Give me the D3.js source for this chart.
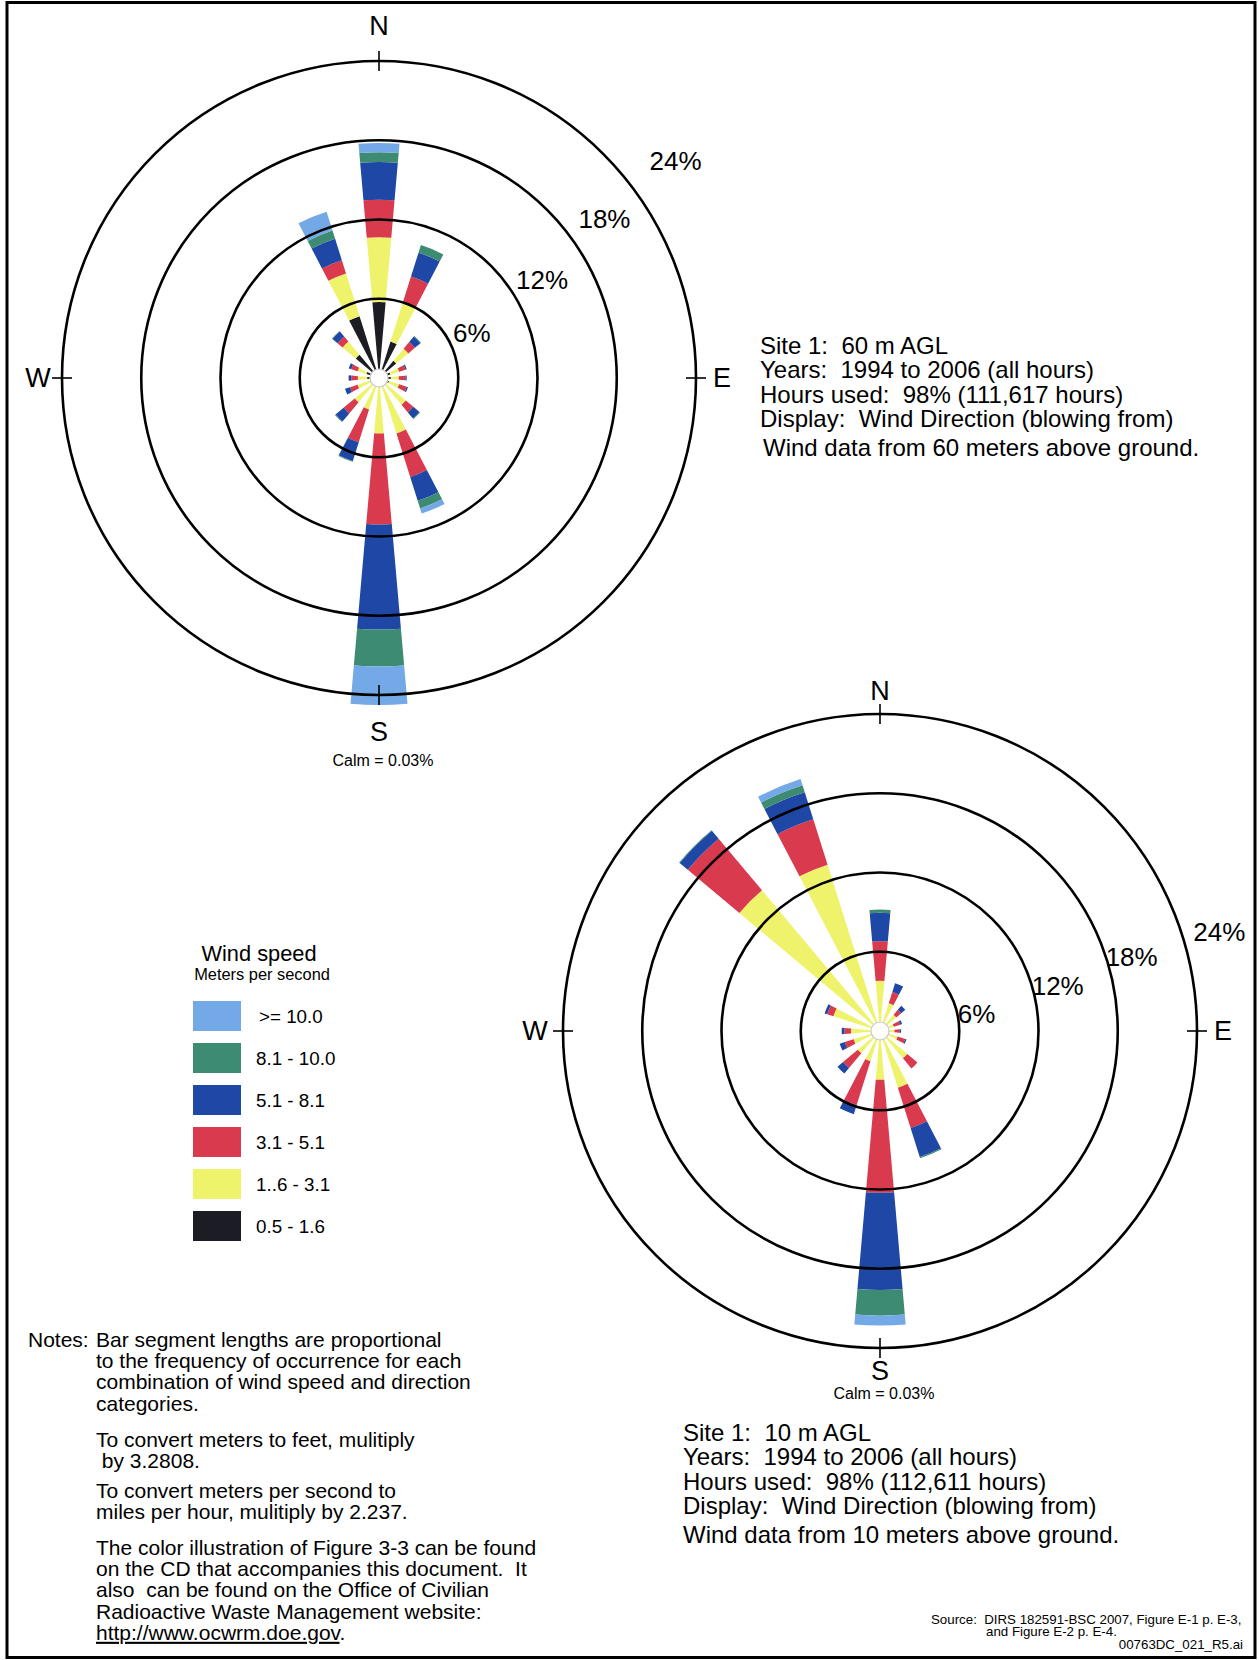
<!DOCTYPE html>
<html>
<head>
<meta charset="utf-8">
<script src="https://cdn.jsdelivr.net/npm/d3@7"></script>
<style>
  html, body { margin: 0; padding: 0; background: #fff; }
  svg { display: block; font-family: "Liberation Sans", Arial, sans-serif; }
  text { white-space: pre; fill: #000; }
</style>
</head>
<body>
<div id="chart"></div>
<script>
/* --- Data --- */

const directions = ["N", "NNE", "NE", "ENE", "E", "ESE", "SE", "SSE",
                    "S", "SSW", "SW", "WSW", "W", "WNW", "NW", "NNW"];

// speed classes, inner to outer
const speedBins = ["0.5 - 1.6", "1..6 - 3.1", "3.1 - 5.1", "5.1 - 8.1", "8.1 - 10.0", ">= 10.0"];
const speedColors = ["#1c1c24", "#eef36b", "#d93a4e", "#1f48a6", "#3d8b72", "#72a9e6"];

const ringTicks = [6, 12, 18, 24];

// Site 1, 60 m AGL (percent of hours, by direction N..NNW)
const s60_0516 = [5.75, 2.9, 1.7, 0.9, 0.9, 0.8, 0.4, 0.2, 0.2, 0.2, 0.3, 0.7, 0.9, 1.0, 2.3, 4.9];
const s60_1631 = [4.9, 3.1, 1.2, 0.7, 0.6, 0.8, 2.25, 4.2, 4.0, 2.3, 2.1, 1.0, 0.7, 0.7, 1.3, 3.4];
const s60_3151 = [2.85, 2.05, 0.65, 0.5, 0.5, 0.6, 0.75, 3.45, 6.9, 2.6, 1.1, 0.6, 0.5, 0.5, 0.5, 1.05];
const s60_5181 = [2.85, 1.9, 0.55, 0.1, 0.1, 0.1, 0.6, 1.9, 7.95, 1.5, 0.8, 0.4, 0.2, 0.2, 0.5, 1.7];
const s60_8110 = [0.75, 0.6, 0.05, 0, 0, 0, 0.05, 0.6, 2.8, 0.05, 0.05, 0, 0, 0, 0.05, 0.65];
const s60_10up = [0.7, 0, 0, 0, 0, 0, 0, 0.4, 2.9, 0, 0, 0, 0, 0, 0, 1.5];

// Site 1, 10 m AGL
const s10_0516 = [0.2, 0.1, 0.1, 0.1, 0.1, 0.1, 0.1, 0.1, 0.1, 0.1, 0.1, 0.1, 0.1, 0.2, 0.5, 0.5];
const s10_1631 = [3.6, 2.1, 1.5, 1.0, 1.0, 1.3, 2.6, 4.4, 3.6, 2.3, 2.1, 2.0, 2.1, 3.5, 13.4, 12.7];
const s10_3151 = [3.0, 0.9, 0.5, 0.5, 0.4, 0.6, 1.0, 3.2, 8.55, 3.5, 1.45, 0.7, 0.5, 0.5, 5.1, 3.6];
const s10_5181 = [2.15, 0.7, 0.4, 0.15, 0.1, 0.1, 0, 2.3, 7.35, 0.7, 0.55, 0.4, 0.2, 0.2, 0.8, 2.15];
const s10_8110 = [0.25, 0, 0, 0, 0, 0, 0, 0.1, 1.95, 0, 0, 0, 0, 0, 0.05, 0.55];
const s10_10up = [0, 0, 0, 0, 0, 0, 0, 0, 0.75, 0, 0, 0, 0, 0, 0, 0.5];

const site60Text = [
  "Site 1:  60 m AGL",
  "Years:  1994 to 2006 (all hours)",
  "Hours used:  98% (111,617 hours)",
  "Display:  Wind Direction (blowing from)"
];
const site10Text = [
  "Site 1:  10 m AGL",
  "Years:  1994 to 2006 (all hours)",
  "Hours used:  98% (112,611 hours)",
  "Display:  Wind Direction (blowing from)"
];

const notesLines = [
  ["Bar segment lengths are proportional", "to the frequency of occurrence for each",
   "combination of wind speed and direction", "categories."],
  ["To convert meters to feet, mulitiply", " by 3.2808."],
  ["To convert meters per second to", "miles per hour, mulitiply by 2.237."],
  ["The color illustration of Figure 3-3 can be found", "on the CD that accompanies this document.  It",
   "also  can be found on the Office of Civilian", "Radioactive Waste Management website:"]
];

/* --- Setup --- */

const width = 1259, height = 1660;
const svg = d3.select("#chart").append("svg")
  .attr("width", width)
  .attr("height", height)
  .attr("viewBox", [0, 0, width, height]);

svg.append("rect")
  .attr("x", 7).attr("y", 2.5)
  .attr("width", 1248).attr("height", 1655)
  .attr("fill", "none").attr("stroke", "#000").attr("stroke-width", 3);

const rad = deg => deg * Math.PI / 180;

// build a stacked table for one site
function buildStack(series) {
  const rows = directions.map((dir, i) => {
    const row = { dir, angle: i * 22.5 };
    speedBins.forEach((b, k) => row[b] = series[k][i]);
    return row;
  });
  return d3.stack().keys(speedBins)(rows);
}

function drawRose(opts) {
  const g = svg.append("g").attr("transform", `translate(${opts.cx},${opts.cy})`);
  const r = d3.scaleLinear().domain([0, 24]).range([0, opts.R]);
  const halfW = rad(5);

  const arc = d3.arc()
    .innerRadius(d => r(d[0]))
    .outerRadius(d => r(d[1]))
    .startAngle(d => rad(d.data.angle) - halfW)
    .endAngle(d => rad(d.data.angle) + halfW);

  // bars
  g.selectAll("g.layer")
    .data(opts.stack)
    .join("g")
    .attr("class", "layer")
    .attr("fill", (d, i) => speedColors[i])
    .selectAll("path")
    .data(d => d.filter(s => s[1] - s[0] > 0))
    .join("path")
    .attr("d", arc);

  // calm circle
  g.append("circle")
    .attr("r", 9)
    .attr("fill", "#fff")
    .attr("stroke", "#c8c8c8")
    .attr("stroke-width", 1.2);

  // rings
  g.selectAll("circle.ring")
    .data(ringTicks)
    .join("circle")
    .attr("class", "ring")
    .attr("r", d => r(d))
    .attr("fill", "none")
    .attr("stroke", "#000")
    .attr("stroke-width", 2.6);

  // ring labels (left-bottom corner placed just off the ring)
  g.selectAll("text.ringlab")
    .data(ringTicks)
    .join("text")
    .attr("class", "ringlab")
    .attr("x", (d, i) => (r(d) + opts.labelPad[i]) * Math.sin(rad(opts.labelAngles[i])))
    .attr("y", (d, i) => -(r(d) + opts.labelPad[i]) * Math.cos(rad(opts.labelAngles[i])))
    .attr("font-size", 26)
    .text(d => d + "%");

  // compass ticks and letters
  const R = r(24);
  const p = opts.compassPad;
  const compass = [
    { t: "N", a: 0, dx: 0, dy: -(R + p[0]) },
    { t: "E", a: 90, dx: R + p[1], dy: 0 },
    { t: "S", a: 180, dx: 0, dy: R + p[2] },
    { t: "W", a: 270, dx: -(R + p[3]), dy: 0 }
  ];
  g.selectAll("line.tick")
    .data(compass)
    .join("line")
    .attr("x1", d => (R - 10) * Math.sin(rad(d.a)))
    .attr("y1", d => -(R - 10) * Math.cos(rad(d.a)))
    .attr("x2", d => (R + 10) * Math.sin(rad(d.a)))
    .attr("y2", d => -(R + 10) * Math.cos(rad(d.a)))
    .attr("stroke", "#000")
    .attr("stroke-width", 1.6);
  g.selectAll("text.compass")
    .data(compass)
    .join("text")
    .attr("class", "compass")
    .attr("x", d => d.dx)
    .attr("y", d => d.dy)
    .attr("text-anchor", "middle")
    .attr("dominant-baseline", "central")
    .attr("font-size", 27)
    .text(d => d.t);

  g.append("text")
    .attr("x", 4).attr("y", R + opts.calmPad)
    .attr("text-anchor", "middle")
    .attr("font-size", 16)
    .text("Calm = 0.03%");
}

drawRose({
  cx: 379, cy: 378, R: 317,
  stack: buildStack([s60_0516, s60_1631, s60_3151, s60_5181, s60_8110, s60_10up]),
  labelAngles: [64, 57, 53, 52.5],
  labelPad: [3, 5, 12, 24],
  compassPad: [35, 26, 37, 24],
  calmPad: 71
});

drawRose({
  cx: 880, cy: 1031, R: 317,
  stack: buildStack([s10_0516, s10_1631, s10_3151, s10_5181, s10_8110, s10_10up]),
  labelAngles: [84, 76.5, 74, 74],
  labelPad: [-1, -2.5, -3, 9],
  compassPad: [23, 26, 23, 28],
  calmPad: 51
});

/* --- Site text blocks --- */

function siteBlock(x, y, lines, last, lastShift) {
  const t = svg.append("g").attr("font-size", 24);
  t.selectAll("text")
    .data(lines)
    .join("text")
    .attr("x", x)
    .attr("y", (d, i) => y + i * 24.3)
    .text(d => d);
  t.append("text")
    .attr("x", x + lastShift)
    .attr("y", y + 3 * 24.3 + 28.6)
    .text(last);
}
siteBlock(760, 354, site60Text, "Wind data from 60 meters above ground.", 3);
siteBlock(683, 1441, site10Text, "Wind data from 10 meters above ground.", 0);

/* --- Legend --- */

const legend = svg.append("g");
legend.append("text")
  .attr("x", 259).attr("y", 961)
  .attr("text-anchor", "middle")
  .attr("font-size", 21.8)
  .text("Wind speed");
legend.append("text")
  .attr("x", 262).attr("y", 980)
  .attr("text-anchor", "middle")
  .attr("font-size", 16.4)
  .text("Meters per second");

const legendOrder = d3.range(speedBins.length).reverse();
const legItem = legend.selectAll("g.item")
  .data(legendOrder)
  .join("g")
  .attr("class", "item")
  .attr("transform", (d, i) => `translate(193,${1001 + i * 42})`);
legItem.append("rect")
  .attr("width", 48).attr("height", 30)
  .attr("fill", d => speedColors[d]);
legItem.append("text")
  .attr("x", (d, i) => i === 0 ? 66 : 63)
  .attr("y", 22)
  .attr("font-size", 18.8)
  .text(d => speedBins[d]);

/* --- Notes --- */

const notes = svg.append("g").attr("font-size", 21);
notes.append("text").attr("x", 28).attr("y", 1347).text("Notes:");
const paraTop = [1347, 1447, 1498, 1555];
notesLines.forEach((para, p) => {
  para.forEach((line, i) => {
    notes.append("text")
      .attr("x", 96)
      .attr("y", paraTop[p] + i * 21.2)
      .text(line);
  });
});
const url = notes.append("text")
  .attr("x", 96)
  .attr("y", 1555 + 4 * 21.2);
url.append("tspan").attr("text-decoration", "underline").text("http://www.ocwrm.doe.gov");
url.append("tspan").text(".");

/* --- Source --- */

const src = svg.append("g").attr("font-size", 13.3);
src.append("text").attr("x", 931).attr("y", 1624).text("Source:  DIRS 182591-BSC 2007, Figure E-1 p. E-3,");
src.append("text").attr("x", 986).attr("y", 1636).text("and Figure E-2 p. E-4.");
src.append("text").attr("x", 1243).attr("y", 1649).attr("text-anchor", "end").text("00763DC_021_R5.ai");
</script>
</body>
</html>
